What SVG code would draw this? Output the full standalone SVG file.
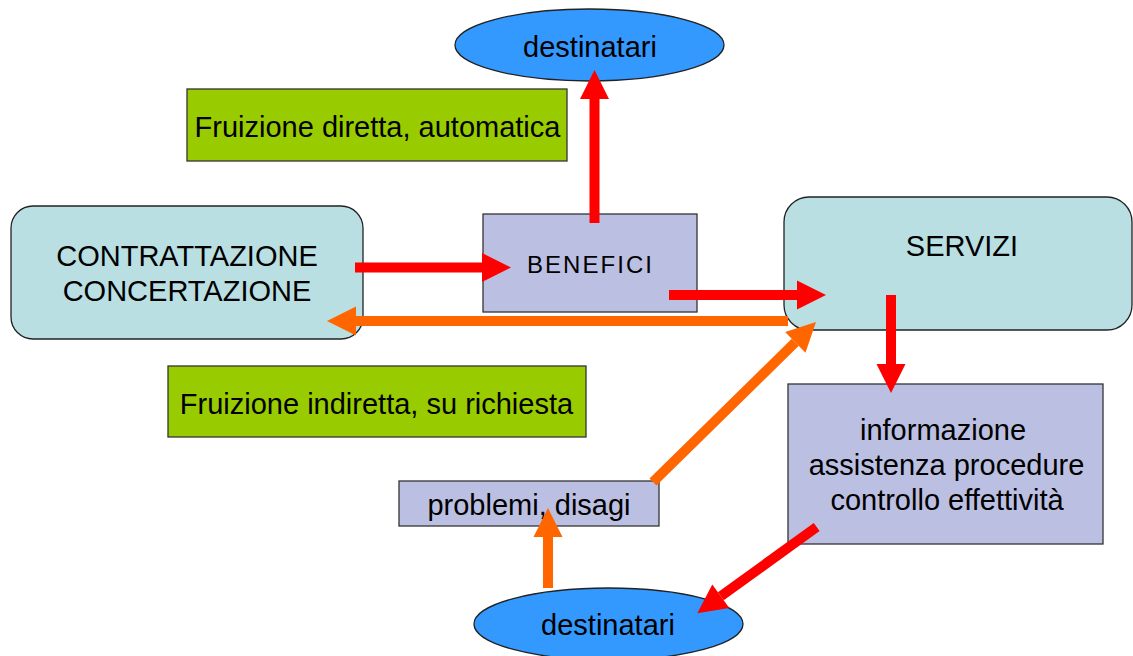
<svg xmlns="http://www.w3.org/2000/svg" width="1133" height="656" viewBox="0 0 1133 656">
<style>
text{font-family:"Liberation Sans",Arial,sans-serif;font-size:29px;fill:#000;text-anchor:middle}
.ell{fill:#3399FF;stroke:#222;stroke-width:1.3}
.grn{fill:#99CC00;stroke:#333;stroke-width:1.3}
.lav{fill:#BBBFE2;stroke:#333;stroke-width:1.3}
.cyn{fill:#B9DFE3;stroke:#222;stroke-width:1.3}
.red{stroke:#FF0000;stroke-width:10;fill:none;marker-end:url(#hr)}
.org{stroke:#FF6600;stroke-width:10;fill:none;marker-end:url(#ho)}
.ben{font-size:24px;font-weight:300}
</style>
<defs>
<marker id="hr" markerUnits="userSpaceOnUse" markerWidth="30" markerHeight="30" refX="0" refY="14.5" orient="auto" overflow="visible"><path d="M0,0 L29,14.5 L0,29 Z" fill="#FF0000"/></marker>
<marker id="ho" markerUnits="userSpaceOnUse" markerWidth="30" markerHeight="30" refX="0" refY="14.5" orient="auto" overflow="visible"><path d="M0,0 L29,14.5 L0,29 Z" fill="#FF6600"/></marker>
</defs>
<rect width="1133" height="656" fill="#fff"/>
<g id="destinatari_top"><ellipse class="ell" cx="589.5" cy="45" rx="134.5" ry="36"/><text x="590" y="57">destinatari</text></g>
<g id="fruizione_diretta"><rect class="grn" x="187" y="89" width="380" height="72"/><text x="377.5" y="137">Fruizione diretta, automatica</text></g>
<g id="contrattazione"><rect class="cyn" x="11" y="206" width="352" height="133" rx="22"/><text x="187" y="266">CONTRATTAZIONE</text><text x="187" y="301">CONCERTAZIONE</text></g>
<g id="benefici"><rect class="lav" x="483" y="214" width="214" height="98"/><text class="ben" x="589.5" y="273" textLength="125" lengthAdjust="spacing">BENEFICI</text></g>
<g id="servizi"><rect class="cyn" x="784" y="197" width="348" height="133" rx="25"/><text x="962" y="256">SERVIZI</text></g>
<g id="fruizione_indiretta"><rect class="grn" x="168" y="366" width="418" height="71"/><text x="376.5" y="414">Fruizione indiretta, su richiesta</text></g>
<g id="problemi"><rect class="lav" x="399" y="481" width="260" height="45"/><text x="529" y="515">problemi, disagi</text></g>
<g id="informazione"><rect class="lav" x="788" y="384" width="315" height="160"/><text x="943" y="440">informazione</text><text x="946.5" y="475">assistenza procedure</text><text x="947" y="510">controllo effettività</text></g>
<g id="destinatari_bottom"><ellipse class="ell" cx="608.5" cy="624" rx="134.5" ry="36"/><text x="608" y="635">destinatari</text></g>
<g id="connectors">
<line class="red" x1="594.5" y1="223" x2="594.5" y2="99"/>
<line class="red" x1="355" y1="267.5" x2="482" y2="267.5"/>
<line class="red" x1="669" y1="295" x2="797" y2="295"/>
<line class="org" x1="788" y1="321" x2="356" y2="321"/>
<line class="org" x1="653" y1="482" x2="795.3" y2="342.3"/>
<line class="red" x1="891" y1="295" x2="891" y2="364"/>
<line class="red" x1="816.7" y1="527" x2="720.8" y2="596.3"/>
<line class="org" x1="548" y1="588" x2="548" y2="537"/>
</g>
</svg>
